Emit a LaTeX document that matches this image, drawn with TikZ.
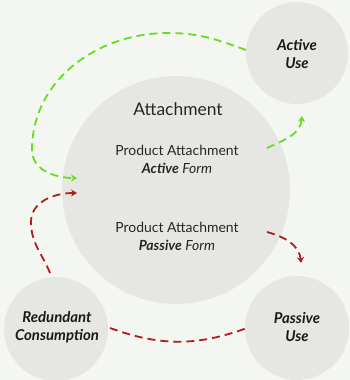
\documentclass[tikz,border=0pt]{standalone}
\usepackage{fontspec}
\setmainfont{Lato}
\usetikzlibrary{arrows.meta}
\definecolor{bg}{HTML}{F4F7F1}
\definecolor{disc}{HTML}{E6E7E3}
\definecolor{lime}{HTML}{66DD22}
\definecolor{darkred}{HTML}{B51A1E}
\tikzset{
  x=1bp,y=-1bp,
  disk/.style={circle,fill=disc,inner sep=0pt},
  lbl/.style={align=center,text=black!85,font=\fontsize{14}{18}\selectfont},
  bigl/.style={text=black!85,font=\fontsize{17.5}{20}\selectfont},
  smalll/.style={align=center,text=black!90,font=\fontsize{15}{17.5}\selectfont\bfseries\itshape},
  gline/.style={draw=lime,line width=1.8bp,dash pattern=on 8bp off 5bp},
  rline/.style={draw=darkred,line width=1.8bp,dash pattern=on 8bp off 5bp},
  tip/.style={-{Stealth[length=6bp,width=7bp,inset=2bp]}}
}
\begin{document}
\begin{tikzpicture}
\fill[bg] (0,0) rectangle (350,380);
\useasboundingbox (0,0) rectangle (350,380);
\node[disk,minimum size=228bp] (att) at (176,190) {};
\node[disk,minimum size=102bp] (au) at (297,53) {};
\node[disk,minimum size=104bp] (pu) at (297,328) {};
\node[disk,minimum size=104bp] (rc) at (56,329) {};
\node[bigl] (tatt) at (178,109) {Attachment};
\node[lbl] (tact) at (177,159) {Product Attachment\\\textbf{\itshape Active} \itshape Form};
\node[lbl] (tpas) at (177,236) {Product Attachment\\\textbf{\itshape Passive} \itshape Form};
\node[smalll] (tau) at (297,54) {Active\\Use};
\node[smalll] (tpu) at (297,327) {Passive\\Use};
\node[smalll] (trc) at (57,327) {Redundant\\Consumption};
\coordinate (g1s) at (246,50);
\coordinate (g1e) at (77,178);
\coordinate (g2s) at (267,148);
\coordinate (g2e) at (302,116);
\coordinate (r1s) at (50,273);
\coordinate (r1e) at (77,193);
\coordinate (r2s) at (267,232);
\coordinate (r2e) at (301,263);
\coordinate (r3s) at (110,328);
\coordinate (r3e) at (247,328);
\draw[gline,tip] (g1s) to[out=160,in=0] (168,33) to[out=180,in=90] (32,150) to[out=-90,in=180] (g1e);
\draw[gline,tip] (g2s) to[out=25,in=-95] (g2e);
\draw[rline,tip] (r1s) to[out=112,in=-90] (31,222) to[out=90,in=180] (r1e);
\draw[rline,tip] (r2s) to[out=-15,in=95] (r2e);
\draw[rline] (r3s) to[out=-20,in=-160] (r3e);
\end{tikzpicture}
\end{document}
